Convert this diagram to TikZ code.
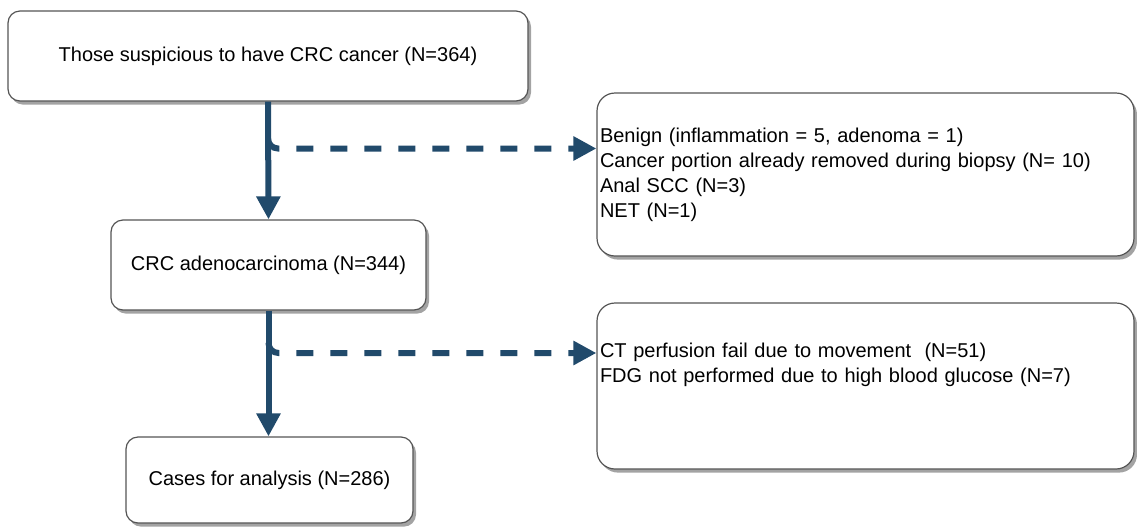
\documentclass[tikz,border=0pt]{standalone}
\usepackage{fontspec}
\setmainfont{Liberation Sans}
\usetikzlibrary{arrows.meta,shadows}
\definecolor{flownavy}{HTML}{214A6B}
\definecolor{boxline}{HTML}{555555}

\begin{document}
\begin{tikzpicture}[x=0.5pt, y=-0.5pt,
        every node/.style={font=\fontsize{10pt}{12.5pt}\selectfont},
        stagebox/.style={draw=boxline, line width=0.6pt, fill=white, rounded corners=6pt, inner sep=0pt,
            drop shadow={shadow xshift=1.5pt, shadow yshift=-1.8pt, fill=black!60, opacity=0.6}},
        exclbox/.style={stagebox, rounded corners=9pt, align=left, inner xsep=1.5pt, text width=265.5pt},
        mainflow/.style={draw=flownavy, line width=3pt, -{Triangle[length=11.5pt, width=11.5pt]}},
        exclflow/.style={mainflow, dash pattern=on 8.5pt off 8.5pt, rounded corners=5pt}]

            \useasboundingbox (0, 0) rectangle (1137, 526);

            %%stages
            \node[stagebox, minimum width=260pt, minimum height=45pt] (screen) at (268, 56){Those suspicious to have CRC cancer (N=364)};
            \node[stagebox, minimum width=157.5pt, minimum height=45pt] (adeno) at (268.5, 265){\raisebox{-1.5pt}{CRC adenocarcinoma (N=344)}};
            \node[stagebox, minimum width=143.5pt, minimum height=43pt] (analysis) at (269.5, 480){\raisebox{-1.5pt}{Cases for analysis (N=286)}};

            %%excluded
            \node[exclbox, minimum height=81.5pt] (excl1) at (865.5, 174.5){Benign (inflammation = 5, adenoma = 1)\\
                Cancer portion already removed during biopsy (N= 10)\\
                Anal SCC (N=3)\\
                NET (N=1)};
            \node[exclbox, minimum height=83pt] (excl2) at (865.5, 386){CT perfusion fail due to movement~ (N=51)\\
                FDG not performed due to high blood glucose (N=7)\rule[-23pt]{0pt}{23pt}};

            %%flow
            \draw[mainflow] (screen.south) to (adeno.north);
            \draw[mainflow] (adeno.south) to (adeno.south |- analysis.north);

            %%branch
            \draw[exclflow] ([yshift=-18.5pt]screen.south) |- ([yshift=13pt]excl1.west);
            \draw[exclflow] ([yshift=-16.5pt]adeno.south) |- ([yshift=16.5pt]excl2.west);

        \end{tikzpicture}
\end{document}
